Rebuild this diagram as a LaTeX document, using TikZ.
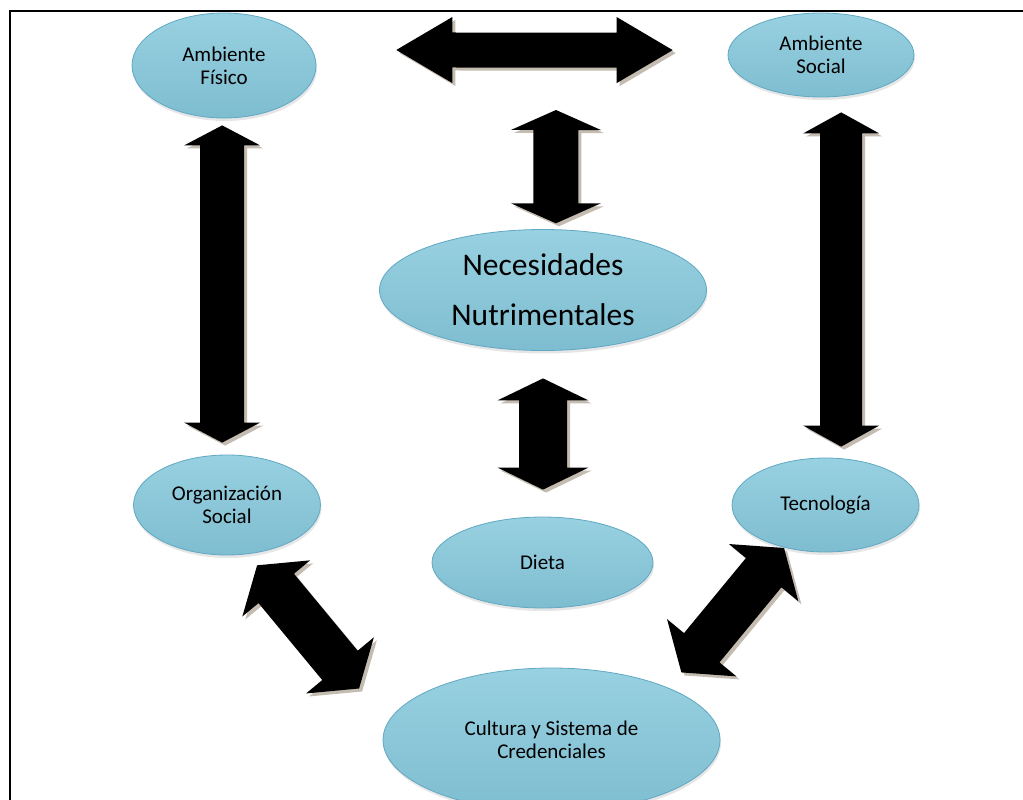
\documentclass[tikz,border=0pt]{standalone}
\usepackage{fontspec}
\setmainfont{Carlito}
\usepackage{tikz}
\usetikzlibrary{shapes}
\usetikzlibrary{calc, shadows}

\definecolor{bubbletop}{RGB}{152,209,225}
\definecolor{bubblebot}{RGB}{126,189,208}
\definecolor{bubbleline}{RGB}{96,168,195}
\definecolor{arrowgray}{RGB}{196,187,177}

\tikzset{
    bubble/.style={
        ellipse,
        draw=bubbleline,
        line width=0.8pt,
        top color=bubbletop,
        bottom color=bubblebot,
        inner sep=0pt,
        align=center,
        font=\fontsize{21}{23}\selectfont,
        drop shadow={opacity=0.2, shadow xshift=1pt, shadow yshift=-3pt}},
    bigbubble/.style={bubble, font=\fontsize{31.5}{50}\selectfont}
}

% ends, gaps at both ends, half shaft, half head, head length
\newcommand{\twoway}[7]{%
    \coordinate (p) at ($(#1)!#3!(#2)$);
    \coordinate (q) at ($(#2)!#4!(#1)$);
    \coordinate (pb) at ($(p)!#7!(q)$);
    \coordinate (qb) at ($(q)!#7!(p)$);
    \foreach \arrcol/\arroff in {arrowgray/3, black/0} {
        \begin{scope}[transform canvas={shift={(\arroff,\arroff)}}]
            \fill[\arrcol] (p) -- ($(pb)!#6!90:(q)$) -- ($(pb)!#5!90:(q)$)
                -- ($(qb)!#5!-90:(p)$) -- ($(qb)!#6!-90:(p)$) -- (q)
                -- ($(qb)!#6!90:(p)$) -- ($(qb)!#5!90:(p)$)
                -- ($(pb)!#5!-90:(q)$) -- ($(pb)!#6!-90:(q)$) -- cycle;
        \end{scope}
    }
}

\begin{document}
\begin{tikzpicture}[x=1pt, y=-1pt]
        \path[use as bounding box, clip] (0,0) rectangle (1023,800);
        \draw[line width=2.6pt] (10,11) rectangle (1040,830);

        \node[bubble,
            minimum width = 184pt,
            minimum height = 105pt] (fis) at (224,65.5) {Ambiente\\Físico};
        \node[bubble,
            minimum width = 186pt,
            minimum height = 84pt] (soc) at (821,55) {Ambiente\\Social};
        \node[bigbubble,
            minimum width = 327pt,
            minimum height = 121pt] (nec) at (543,290) {Necesidades\\Nutrimentales};
        \node[bubble,
            minimum width = 187pt,
            minimum height = 100pt] (org) at (227,505) {Organización\\Social};
        \node[bubble,
            minimum width = 221pt,
            minimum height = 91pt] (die) at (542.5,562.5) {Dieta};
        \node[bubble,
            minimum width = 187pt,
            minimum height = 94pt] (tec) at (825.5,505) {Tecnología};
        \node[bubble,
            minimum width = 337pt,
            minimum height = 144pt] (cul) at (551.5,740) {Cultura y Sistema de\\Credenciales};

        \coordinate (amb) at (556,50);
        \coordinate (lf) at (fis.-92 |- org.north);
        \coordinate (rt) at (soc.-64 |- tec.north);
        \coordinate (dn) at (nec.south |- die.north);

        \twoway{fis.10}{soc.177}{84pt}{55.5pt}{17.5pt}{33pt}{56pt}
        \twoway{nec.78}{amb}{6pt}{60pt}{22.5pt}{45pt}{20pt}
        \twoway{fis.-92}{lf}{7pt}{12pt}{22pt}{38pt}{20pt}
        \twoway{soc.-64}{rt}{16pt}{11pt}{21pt}{38pt}{21pt}
        \twoway{nec.south}{dn}{27.5pt}{27pt}{24pt}{45.5pt}{22pt}
        \twoway{org.-67}{cul.174}{14.5pt}{44.5pt}{23pt}{44pt}{30pt}
        \twoway{tec.-134}{cul.24}{0.5pt}{20pt}{23pt}{45pt}{32pt}
    \end{tikzpicture}
\end{document}
